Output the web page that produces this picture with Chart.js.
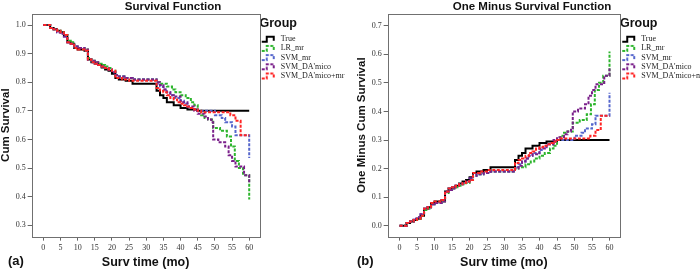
<!DOCTYPE html>
<html>
<head>
<meta charset="utf-8">
<script src="https://cdn.jsdelivr.net/npm/chart.js@4.4.1/dist/chart.umd.min.js"></script>
<style>
  body { margin: 0; background: #fff; width: 700px; height: 269px; overflow: hidden; position: relative; }
  .panel { position: absolute; top: 0; height: 269px; }
  .tag { position: absolute; top: 253px; font: bold 13px "Liberation Sans", Arial, sans-serif; color: #111; }
</style>
</head>
<body>
<div class="panel" style="left:0;width:346px"><canvas id="chartA" width="346" height="269"></canvas></div>
<div class="panel" style="left:352px;width:356px"><canvas id="chartB" width="356" height="269"></canvas></div>
<div class="tag" style="left:8px">(a)</div>
<div class="tag" style="left:357px">(b)</div>
<script>
const groups = ['True', 'LR_mr', 'SVM_mr', "SVM_DA'mico", "SVM_DA'mico+mr"];
const colors = ['#000000', '#2db52d', '#5566cc', '#7a1f8a', '#ff2424'];

const timeTicks = [0, 5, 10, 15, 20, 25, 30, 35, 40, 45, 50, 55, 60];
const survTicks = [0.3, 0.4, 0.5, 0.6, 0.7, 0.8, 0.9, 1.0];
const failTicks = [0.0, 0.1, 0.2, 0.3, 0.4, 0.5, 0.6, 0.7];

// True
const timeTrue = [0,2,3,4,5,6,7,8,9,10, 12,13,14,15,16,17,18,19,20,21, 22,24,26,33,34,35,36,38,40,42, 45,60];
const survTrue = [1,0.99,0.985,0.98,0.975,0.965,0.94,0.935,0.92,0.915, 0.91,0.88,0.87,0.865,0.86,0.852,0.845,0.84,0.83,0.815, 0.81,0.805,0.795,0.77,0.755,0.745,0.73,0.72,0.71,0.705, 0.70,0.70];
const failTrue = [0,0.01,0.015,0.02,0.025,0.035,0.06,0.065,0.08,0.085, 0.09,0.12,0.13,0.135,0.14,0.148,0.155,0.16,0.17,0.185, 0.19,0.195,0.205,0.23,0.245,0.255,0.27,0.28,0.29,0.295, 0.30,0.30];

// LR_mr
const timeLR = [0,2,3,4,5,6,7,8,9,10, 12,13,14,15,16,17,18,19,20,21, 22,24,26,33,34,36,37.5,38.5,40,41.5, 43,44,45,46,47,48,49.5,51.5,53.5,54.7, 55.8,57,58.2,60];
const survLR = [1,0.99,0.985,0.98,0.975,0.965,0.945,0.94,0.925,0.92, 0.915,0.885,0.875,0.87,0.865,0.86,0.855,0.85,0.84,0.825, 0.82,0.815,0.81,0.80,0.795,0.785,0.775,0.765,0.755,0.745, 0.73,0.72,0.70,0.685,0.675,0.67,0.64,0.63,0.61,0.575, 0.525,0.50,0.475,0.39];
const failLR = [0,0.01,0.015,0.02,0.025,0.035,0.055,0.06,0.075,0.08, 0.085,0.115,0.125,0.13,0.135,0.14,0.145,0.15,0.16,0.175, 0.18,0.185,0.19,0.20,0.205,0.215,0.225,0.235,0.245,0.255, 0.27,0.28,0.30,0.315,0.325,0.33,0.36,0.37,0.39,0.425, 0.475,0.50,0.525,0.61];

// SVM_mr
const timeSVM = [0,2,3,4,5,6,7,8,9,10, 12,13,14,15,16,17,18,19,20,21, 22,24,26,33,34,35,36,37,38,40, 41,42,43,44,45,50,52,53,55,56, 60];
const survSVM = [1,0.99,0.985,0.975,0.97,0.96,0.94,0.935,0.925,0.92, 0.91,0.88,0.87,0.865,0.86,0.855,0.85,0.845,0.835,0.825, 0.82,0.815,0.81,0.795,0.785,0.775,0.765,0.755,0.745,0.735, 0.725,0.715,0.71,0.705,0.70,0.685,0.675,0.66,0.645,0.615, 0.535];
const failSVM = [0,0.01,0.015,0.025,0.03,0.04,0.06,0.065,0.075,0.08, 0.09,0.12,0.13,0.135,0.14,0.145,0.15,0.155,0.165,0.175, 0.18,0.185,0.19,0.205,0.215,0.225,0.235,0.245,0.255,0.265, 0.275,0.285,0.29,0.295,0.30,0.315,0.325,0.34,0.355,0.385, 0.465];

// SVM_DA'mico
const timeDA = [0,2,3,4,5,6,7,8,9,10, 12,13,14,15,16,17,18,19,20,21, 22,24,26,33,34,35,36,37,38,40, 42,44,45,47,48,49,49.5,51,53,54, 55,56,58.5,60];
const survDA = [1,0.99,0.985,0.975,0.97,0.96,0.94,0.935,0.925,0.92, 0.915,0.88,0.875,0.87,0.86,0.855,0.85,0.845,0.835,0.825, 0.82,0.815,0.81,0.80,0.79,0.775,0.765,0.755,0.75,0.73, 0.715,0.70,0.69,0.68,0.67,0.66,0.60,0.59,0.575,0.545, 0.525,0.505,0.475,0.45];
const failDA = [0,0.01,0.015,0.025,0.03,0.04,0.06,0.065,0.075,0.08, 0.085,0.12,0.125,0.13,0.14,0.145,0.15,0.155,0.165,0.175, 0.18,0.185,0.19,0.20,0.21,0.225,0.235,0.245,0.25,0.27, 0.285,0.30,0.31,0.32,0.33,0.34,0.40,0.41,0.425,0.455, 0.475,0.495,0.525,0.55];

// SVM_DA'mico+mr
const timeDAmr = [0,2,3,4,5,6,7,8,9,10, 12,13,14,15,16,17,18,19,20,21, 23,25,33,34,35,36,37,38,39,40, 41,42,43,44,45,46,54.5,56,57.5,60];
const survDAmr = [1,0.99,0.985,0.98,0.975,0.965,0.94,0.935,0.92,0.915, 0.91,0.88,0.87,0.865,0.86,0.855,0.85,0.845,0.84,0.815, 0.81,0.805,0.78,0.77,0.765,0.755,0.745,0.74,0.73,0.725, 0.72,0.715,0.71,0.705,0.70,0.695,0.685,0.665,0.615,0.615];
const failDAmr = [0,0.01,0.015,0.02,0.025,0.035,0.06,0.065,0.08,0.085, 0.09,0.12,0.13,0.135,0.14,0.145,0.15,0.155,0.16,0.185, 0.19,0.195,0.22,0.23,0.235,0.245,0.255,0.26,0.27,0.275, 0.28,0.285,0.29,0.295,0.30,0.305,0.315,0.335,0.385,0.385];

const allTimes = [timeTrue, timeLR, timeSVM, timeDA, timeDAmr];
const allSurv = [survTrue, survLR, survSVM, survDA, survDAmr];
const allFail = [failTrue, failLR, failSVM, failDA, failDAmr];

// little step symbol used in the legend
function stepIcon(color, dashed) {
  const c = document.createElement('canvas');
  c.width = 16; c.height = 9;
  const g = c.getContext('2d');
  g.strokeStyle = color;
  g.lineWidth = 2;
  if (dashed) g.setLineDash([3, 1.5]);
  g.beginPath();
  g.moveTo(1, 7); g.lineTo(6, 7); g.lineTo(6, 2); g.lineTo(13, 2); g.lineTo(13, 6);
  g.stroke();
  return c;
}

function makeSets(values) {
  return groups.map((name, i) => ({
    label: name,
    data: allTimes[i].map((t, k) => ({ x: t, y: values[i][k] })),
    borderColor: colors[i],
    backgroundColor: colors[i],
    borderWidth: 2,
    borderDash: i === 0 ? [] : [3, 1.5],
    stepped: 'before',
    pointRadius: 0,
    pointHoverRadius: 0,
    pointStyle: stepIcon(colors[i], i !== 0),
    fill: false,
    order: 5 - i
  }));
}

const frame = {
  id: 'frame',
  beforeDatasetsDraw(chart) {
    const a = chart.chartArea, ctx = chart.ctx;
    ctx.save();
    ctx.strokeStyle = '#707070';
    ctx.lineWidth = 1;
    ctx.strokeRect(Math.round(a.left) + 0.5, Math.round(a.top) + 0.5,
      Math.round(a.right - a.left), Math.round(a.bottom - a.top));
    ctx.restore();
  }
};

const tickFont = { family: '"Liberation Serif", "Times New Roman", serif', size: 8 };
const boldSans = '"Liberation Sans", Arial, sans-serif';

function makeChart(id, title, yTitle, values, yTicks, yMin, yMax, padLeft) {
  new Chart(document.getElementById(id).getContext('2d'), {
    type: 'line',
    data: { datasets: makeSets(values) },
    plugins: [frame],
    options: {
      responsive: false,
      animation: false,
      layout: { padding: { left: padLeft, right: 0, top: 0, bottom: 0 } },
      plugins: {
        title: {
          display: true, text: title, color: '#111',
          font: { family: boldSans, size: 11.5, weight: 'bold', lineHeight: 1.1 },
          padding: { top: 1, bottom: 0 }
        },
        legend: {
          position: 'right', align: 'start',
          title: {
            display: true, text: 'Group', color: '#111', position: 'start',
            font: { family: boldSans, size: 12.5, weight: 'bold' },
            padding: { top: 17, bottom: 2 }
          },
          labels: {
            usePointStyle: true, pointStyleWidth: 16,
            color: '#222', padding: 1.2,
            font: { family: tickFont.family, size: 8 },
            sort: (a, b) => a.datasetIndex - b.datasetIndex
          }
        },
        tooltip: { enabled: false }
      },
      scales: {
        x: {
          type: 'linear', min: -3.4, max: 63,
          afterBuildTicks: s => { s.ticks = timeTicks.map(v => ({ value: v })); },
          ticks: { font: tickFont, color: '#333', padding: 2, maxRotation: 0 },
          grid: { drawOnChartArea: false, tickLength: 4, color: '#666' },
          border: { display: false },
          title: {
            display: true, text: 'Surv time (mo)', color: '#111',
            font: { family: boldSans, size: 12.5, weight: 'bold', lineHeight: 1.1 },
            padding: { top: 1, bottom: 0 }
          }
        },
        y: {
          type: 'linear', min: yMin, max: yMax,
          afterBuildTicks: s => { s.ticks = yTicks.map(v => ({ value: v })); },
          ticks: { font: tickFont, color: '#333', padding: 2, callback: v => v.toFixed(1) },
          grid: { drawOnChartArea: false, tickLength: 4, color: '#666' },
          border: { display: false },
          title: {
            display: true, text: yTitle, color: '#111',
            font: { family: boldSans, size: 11.5, weight: 'bold', lineHeight: 1.1 },
            padding: { top: 0, bottom: 1 }
          }
        }
      }
    }
  });
}

makeChart('chartA', 'Survival Function', 'Cum Survival', allSurv, survTicks, 0.26, 1.04, 0);
makeChart('chartB', 'One Minus Survival Function', 'One Minus Cum Survival', allFail, failTicks, -0.038, 0.742, 4);
</script>
</body>
</html>
